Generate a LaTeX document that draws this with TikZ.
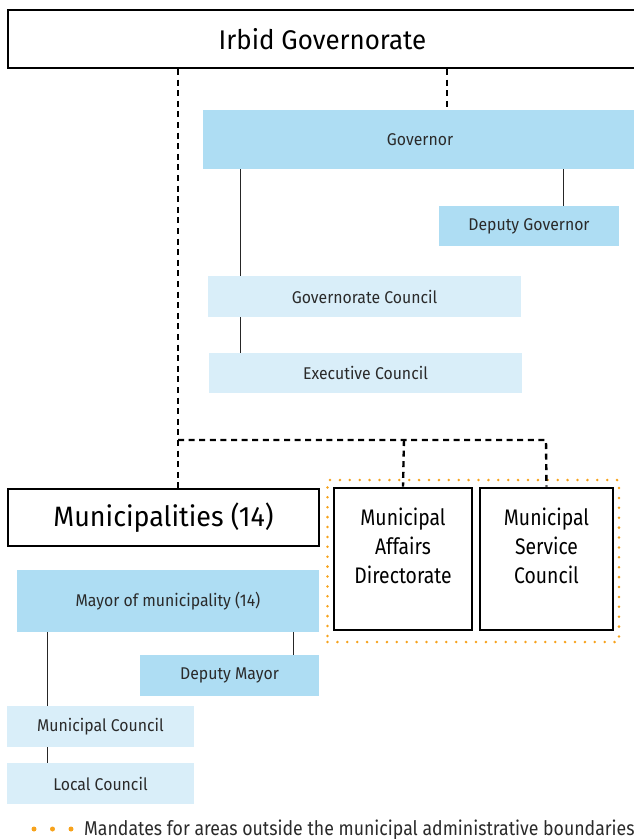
\documentclass[tikz,border=0pt]{standalone}
\usepackage{fontspec}
\setmainfont{Fira Sans}[FakeStretch=0.96]
\newfontfamily\smallfont{Fira Sans}[FakeStretch=0.93]
\newfontfamily\legfont{Fira Sans}[FakeStretch=0.885]
\newfontfamily\lightfont{Fira Sans}[FakeStretch=0.86]
\definecolor{bluedark}{HTML}{AEDDF3}
\definecolor{bluelight}{HTML}{D9EEF9}
\definecolor{dotorange}{HTML}{F7A21B}
\definecolor{txt}{HTML}{2A2A2A}
\begin{document}
\begin{tikzpicture}[x=1pt,y=-1pt,
  bigbox/.style={draw=black,line width=2pt,fill=white,inner sep=0pt,text=black},
  sidebox/.style={draw=black,line width=2.6pt,fill=white,inner sep=0pt},
  darkbox/.style={fill=bluedark,inner sep=0pt,text=txt,font=\smallfont\fontsize{17}{20}\selectfont},
  lightbox/.style={fill=bluelight,inner sep=0pt,text=txt,font=\smallfont\fontsize{17}{20}\selectfont},
  dashline/.style={draw=black,line width=2.4pt,dash pattern=on 6pt off 4.6pt},
  thinline/.style={draw=black!85,line width=1pt},
  dotline/.style={draw=dotorange,line width=2.8pt,line cap=round,dash pattern=on 0pt off 9.9pt}
]
\useasboundingbox (0,0) rectangle (634,839);
% top
\node[bigbox,minimum width=629pt,minimum height=58pt,font=\fontsize{27}{30}\selectfont] (irbid) at (322.5,39) {Irbid Governorate};
\node[darkbox,minimum width=434pt,minimum height=59pt] (governor) at (420,139.5) {Governor};
\node[darkbox,minimum width=180pt,minimum height=40pt] (depgov) at (529,226) {Deputy Governor};
\node[lightbox,minimum width=313pt,minimum height=41pt] (govcouncil) at (364.5,296.5) {Governorate Council};
\node[lightbox,minimum width=313pt,minimum height=40pt] (execcouncil) at (365.5,373) {Executive Council};
% middle
\node[bigbox,minimum width=311pt,minimum height=57pt,font=\fontsize{28}{30}\selectfont] (munis) at (163.5,517.5) {Municipalities (14)};
\node[dotline,minimum width=291.5pt,minimum height=162pt,inner sep=0pt] (mandate) at (473.25,561) {};
\node[sidebox,minimum width=138pt,minimum height=142pt] (mad) at (403,559) {};
\node[sidebox,minimum width=133pt,minimum height=142pt] (msc) at (546.5,559) {};
\node[align=center,text=black,font=\lightfont\fontsize{22.5}{29}\selectfont,inner sep=0pt] (madtext) at (403,546) {Municipal\\Affairs\\Directorate};
\node[align=center,text=black,font=\lightfont\fontsize{22.5}{29}\selectfont,inner sep=0pt] (msctext) at (546.5,546) {Municipal\\Service\\Council};
% bottom
\node[darkbox,minimum width=302pt,minimum height=62pt] (mayor) at (168,601) {Mayor of municipality (14)};
\node[darkbox,minimum width=179pt,minimum height=41pt] (depmayor) at (229.5,675.5) {Deputy Mayor};
\node[lightbox,minimum width=187pt,minimum height=41pt] (muncouncil) at (100.5,726.5) {Municipal Council};
\node[lightbox,minimum width=187pt,minimum height=41pt] (localcouncil) at (100.5,783.5) {Local Council};
% legend
\fill[dotorange] (34,829) circle (2.5pt) (52.5,829) circle (2.5pt) (71,829) circle (2.5pt);
\node[anchor=base west,inner sep=0pt,text=txt,font=\legfont\fontsize{20}{22}\selectfont] (legend) at (84,835) {Mandates for areas outside the municipal administrative boundaries};
% connectors
\coordinate (jl) at (178,440);
\coordinate (jm) at (404,440);
\coordinate (jr) at (546,440);
\draw[dashline] (178,0 |- irbid.south) -- (jl) -- (178,0 |- munis.north);
\draw[dashline] (447,0 |- irbid.south) -- (447,0 |- governor.north);
\draw[dashline] (jl) -- (jr) -- (msc.north);
\draw[dashline] (jm) -- (mad.north);
\draw[thinline] (240,0 |- governor.south) -- (240,0 |- govcouncil.north);
\draw[thinline] (240,0 |- govcouncil.south) -- (240,0 |- execcouncil.north);
\draw[thinline] (563,0 |- governor.south) -- (563,0 |- depgov.north);
\draw[thinline] (47,0 |- mayor.south) -- (47,0 |- muncouncil.north);
\draw[thinline] (47,0 |- muncouncil.south) -- (47,0 |- localcouncil.north);
\draw[thinline] (293,0 |- mayor.south) -- (293,0 |- depmayor.north);
\end{tikzpicture}
\end{document}
